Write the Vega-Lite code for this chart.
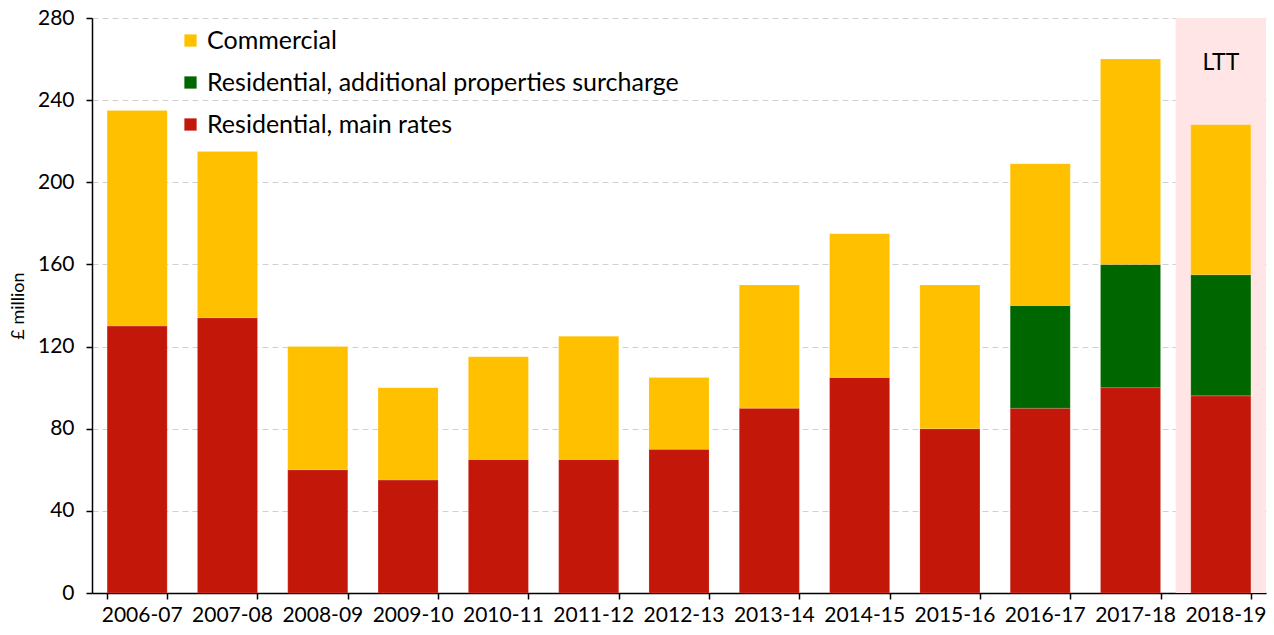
{
  "$schema": "https://vega.github.io/schema/vega-lite/v6.json",
  "autosize": {"type": "none"},
  "width": 1174,
  "height": 575,
  "padding": {"left": 92, "top": 18, "right": 8, "bottom": 42},
  "background": "white",
  "config": {
    "font": "Lato",
    "view": {"stroke": null},
    "axis": {"labelFont": "Lato", "titleFont": "Lato", "labelColor": "#000000", "titleColor": "#000000"}
  },
  "data": {
    "values": [
      {"year": "2006-07", "category": "Residential, main rates", "value": 130},
      {"year": "2006-07", "category": "Commercial", "value": 105},
      {"year": "2007-08", "category": "Residential, main rates", "value": 134},
      {"year": "2007-08", "category": "Commercial", "value": 81},
      {"year": "2008-09", "category": "Residential, main rates", "value": 60},
      {"year": "2008-09", "category": "Commercial", "value": 60},
      {"year": "2009-10", "category": "Residential, main rates", "value": 55},
      {"year": "2009-10", "category": "Commercial", "value": 45},
      {"year": "2010-11", "category": "Residential, main rates", "value": 65},
      {"year": "2010-11", "category": "Commercial", "value": 50},
      {"year": "2011-12", "category": "Residential, main rates", "value": 65},
      {"year": "2011-12", "category": "Commercial", "value": 60},
      {"year": "2012-13", "category": "Residential, main rates", "value": 70},
      {"year": "2012-13", "category": "Commercial", "value": 35},
      {"year": "2013-14", "category": "Residential, main rates", "value": 90},
      {"year": "2013-14", "category": "Commercial", "value": 60},
      {"year": "2014-15", "category": "Residential, main rates", "value": 105},
      {"year": "2014-15", "category": "Commercial", "value": 70},
      {"year": "2015-16", "category": "Residential, main rates", "value": 80},
      {"year": "2015-16", "category": "Commercial", "value": 70},
      {"year": "2016-17", "category": "Residential, main rates", "value": 90},
      {"year": "2016-17", "category": "Residential, additional properties surcharge", "value": 50},
      {"year": "2016-17", "category": "Commercial", "value": 69},
      {"year": "2017-18", "category": "Residential, main rates", "value": 100},
      {"year": "2017-18", "category": "Residential, additional properties surcharge", "value": 60},
      {"year": "2017-18", "category": "Commercial", "value": 100},
      {"year": "2018-19", "category": "Residential, main rates", "value": 96},
      {"year": "2018-19", "category": "Residential, additional properties surcharge", "value": 59},
      {"year": "2018-19", "category": "Commercial", "value": 73}
    ]
  },
  "layer": [
    {
      "data": {"values": [{"year": "2018-19", "label": "LTT"}]},
      "mark": {"type": "bar", "color": "#FFE5E5", "width": {"band": 1.505}},
      "encoding": {
        "x": {"field": "year", "type": "nominal"},
        "y": {"datum": 280, "type": "quantitative"},
        "y2": {"datum": 0}
      }
    },
    {
      "mark": {"type": "bar", "stroke": "#ffffff", "strokeOpacity": 0.3, "strokeWidth": 0.5},
      "encoding": {
        "x": {
          "field": "year",
          "type": "nominal",
          "sort": null,
          "scale": {"paddingInner": 0.335, "paddingOuter": 0.1675},
          "axis": {
            "title": null,
            "labelAngle": 0,
            "labelFontSize": 21,
            "labelPadding": 16,
            "labelOffset": 45,
            "tickBand": "extent",
            "domainColor": "#000000",
            "domainWidth": 1.5,
            "tickColor": "#000000",
            "tickWidth": 1.5,
            "tickSize": 6,
            "grid": false
          }
        },
        "y": {
          "field": "value",
          "type": "quantitative",
          "stack": "zero",
          "scale": {"domain": [0, 280], "nice": false},
          "axis": {
            "title": "£ million",
            "titleFontSize": 18,
            "titleFontWeight": "normal",
            "titlePadding": 10,
            "values": [0, 40, 80, 120, 160, 200, 240, 280],
            "labelFontSize": 21,
            "labelPadding": 12,
            "domainColor": "#000000",
            "domainWidth": 1.5,
            "tickColor": "#000000",
            "tickWidth": 1.5,
            "tickSize": 6,
            "grid": true,
            "gridColor": "#D0D0D0",
            "gridDash": [6, 4],
            "gridWidth": 1.2
          }
        },
        "color": {
          "field": "category",
          "type": "nominal",
          "scale": {
            "domain": ["Commercial", "Residential, additional properties surcharge", "Residential, main rates"],
            "range": ["#FFC000", "#006600", "#C3170A"]
          },
          "legend": {
            "title": null,
            "orient": "none",
            "legendX": 86,
            "legendY": 10,
            "symbolType": "square",
            "symbolSize": 150,
            "symbolStrokeWidth": 0,
            "labelFontSize": 25,
            "labelFont": "Lato",
            "labelColor": "#000000",
            "labelLimit": 800,
            "rowPadding": 16,
            "labelOffset": 4,
            "fillColor": null
          }
        },
        "order": {"field": "category", "sort": "descending"}
      }
    },
    {
      "data": {"values": [{"year": "2018-19", "label": "LTT"}]},
      "mark": {"type": "text", "fontSize": 23, "font": "Lato", "color": "#000000", "baseline": "middle"},
      "encoding": {
        "x": {"field": "year", "type": "nominal"},
        "y": {"datum": 258, "type": "quantitative"},
        "text": {"field": "label"}
      }
    }
  ]
}
